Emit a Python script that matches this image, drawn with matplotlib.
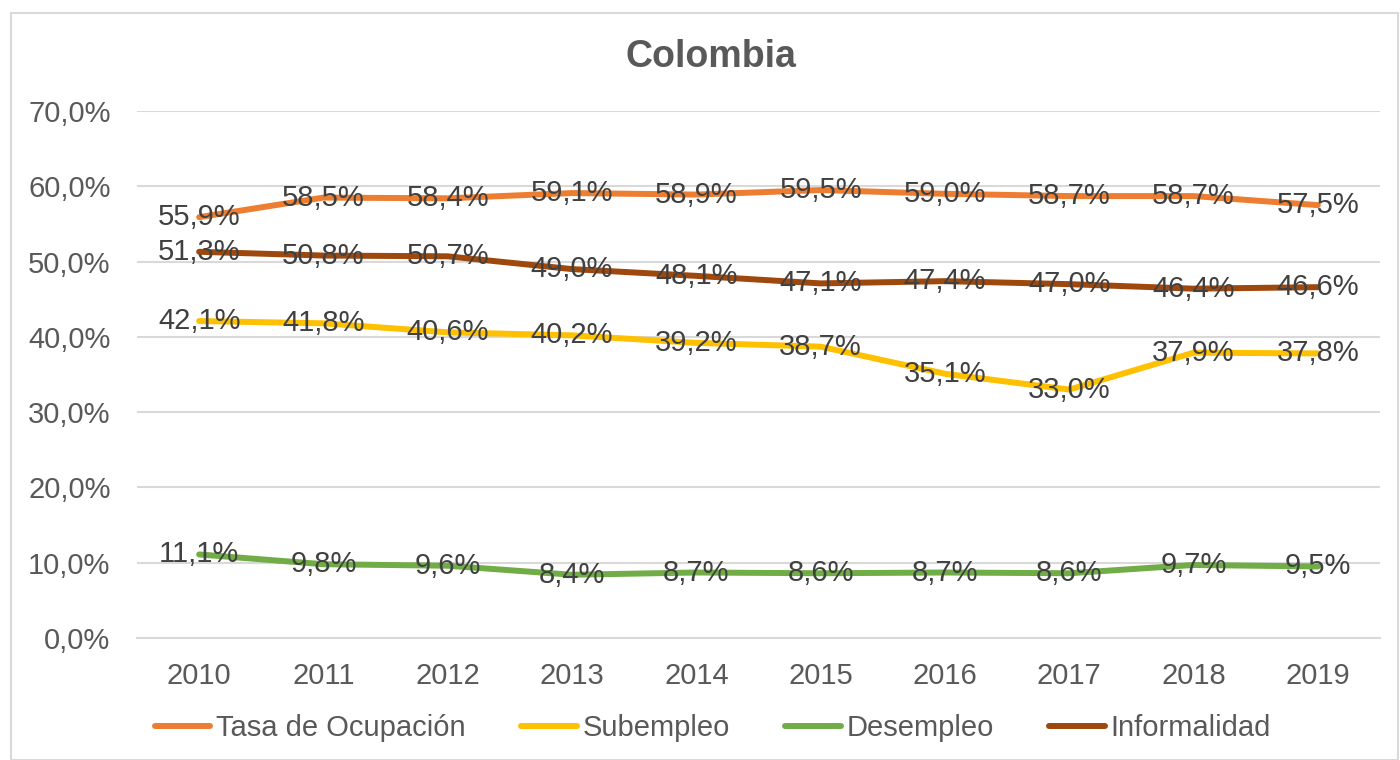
import matplotlib
matplotlib.use("Agg")
import matplotlib.pyplot as plt
from matplotlib.patches import Rectangle
from matplotlib.ticker import FuncFormatter

plt.rcParams['font.family'] = ['Liberation Sans', 'DejaVu Sans']

years = [2010, 2011, 2012, 2013, 2014, 2015, 2016, 2017, 2018, 2019]
ocupacion = [55.9, 58.5, 58.4, 59.1, 58.9, 59.5, 59.0, 58.7, 58.7, 57.5]
subempleo = [42.1, 41.8, 40.6, 40.2, 39.2, 38.7, 35.1, 33.0, 37.9, 37.8]
desempleo = [11.1, 9.8, 9.6, 8.4, 8.7, 8.6, 8.7, 8.6, 9.7, 9.5]
informalidad = [51.3, 50.8, 50.7, 49.0, 48.1, 47.1, 47.4, 47.0, 46.4, 46.6]
series_names = ["Tasa de Ocupación", "Subempleo", "Desempleo", "Informalidad"]
colors = ["#ED7D31", "#FFC000", "#70AD47", "#9E480E"]
yticks = [0, 10, 20, 30, 40, 50, 60, 70]

fig = plt.figure(figsize=(14, 7.6), dpi=100)
fig.patches.append(Rectangle((11/1400, 0/760), 1387/1400, 747/760, transform=fig.transFigure,
                             fill=False, edgecolor="#D9D9D9", linewidth=1.5))
ax = fig.add_axes([137/1400, 1-638/760, 1243/1400, 527/760])

x = list(range(len(years)))
all_series = [ocupacion, subempleo, desempleo, informalidad]
lines = []
for vals, name, c in zip(all_series, series_names, colors):
    ln, = ax.plot(x, vals, color=c, linewidth=4.3, solid_capstyle='round', label=name, zorder=3)
    lines.append(ln)
    for xi, v in zip(x, vals):
        ax.text(xi, v, f"{v:.1f}%".replace('.', ','), ha='center', va='center',
                fontsize=21, color="#404040", zorder=4)

ax.set_xlim(-0.5, len(years) - 0.5)
ax.set_ylim(0, 70)
ax.set_yticks(yticks)
ax.yaxis.set_major_formatter(FuncFormatter(lambda v, p: f"{v:.1f}%".replace('.', ',')))
ax.set_xticks(x)
ax.set_xticklabels([str(y) for y in years])
ax.grid(axis='y', color="#D9D9D9", linewidth=1.5, zorder=0)
ax.set_axisbelow(True)
for s in ['top', 'right', 'left']:
    ax.spines[s].set_visible(False)
ax.spines['bottom'].set_color("#D9D9D9")
ax.spines['bottom'].set_linewidth(1.5)
ax.tick_params(axis='both', length=0, labelsize=21, labelcolor="#595959")
ax.tick_params(axis='x', pad=17)
ax.tick_params(axis='y', pad=19)

fig.text(711/1400, 1-57/760, "Colombia", ha='center', va='center', fontsize=27,
         fontweight='bold', color="#595959")

leg = fig.legend(handles=lines, labels=series_names, loc='center', bbox_to_anchor=(713/1400, 1-728/760),
                 ncol=4, frameon=False, fontsize=21, handlelength=1.9, handletextpad=0.2,
                 columnspacing=1.9, labelcolor="#595959")

fig.savefig("out.png", dpi=100, facecolor="white")
